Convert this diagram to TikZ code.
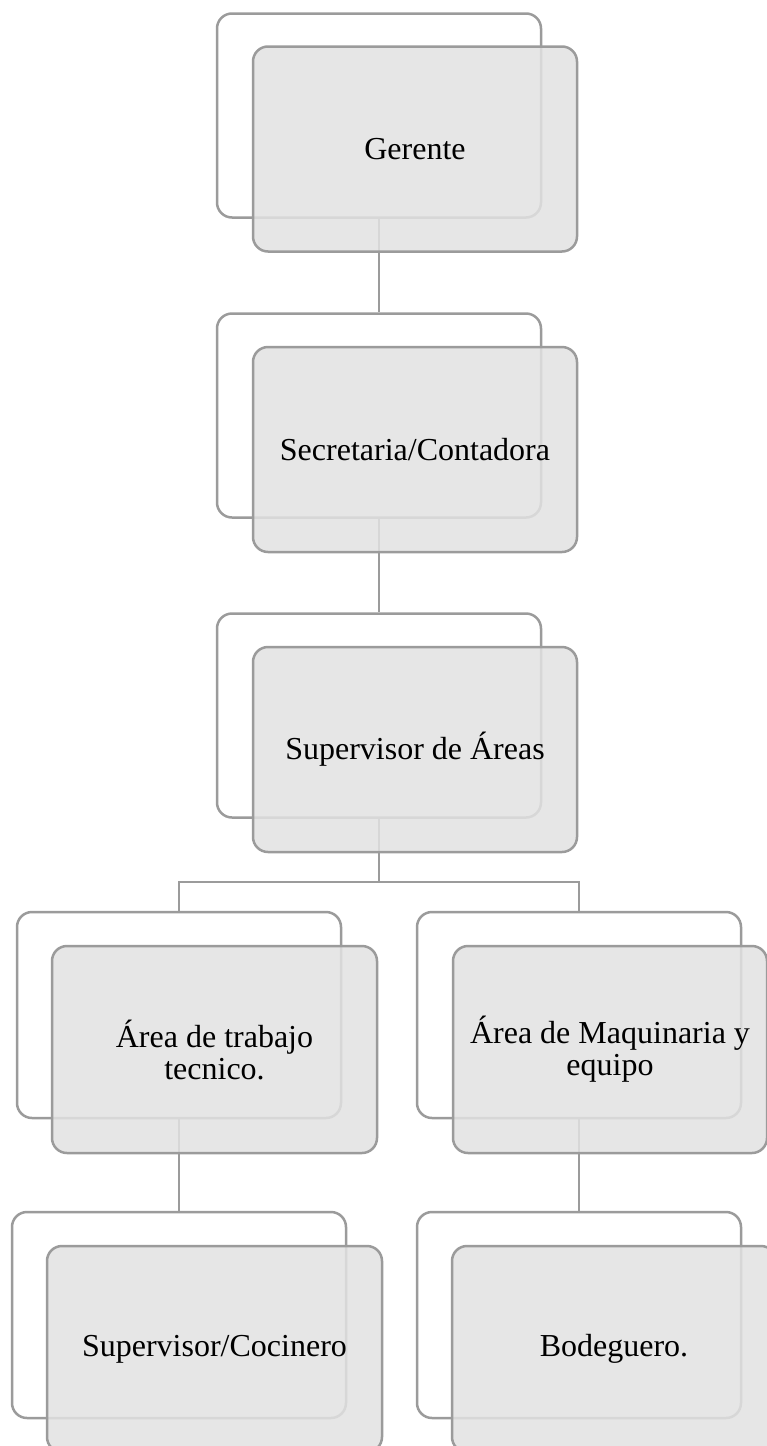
\documentclass[tikz,border=0pt]{standalone}
\usepackage{fontspec}
\setmainfont{Liberation Serif}
\definecolor{edgegray}{RGB}{155,155,155}
\definecolor{boxfill}{RGB}{226,226,226}
\tikzset{
  backbox/.style={draw=edgegray, line width=2.5pt, rounded corners=15pt, fill=white,
    minimum width=324pt, minimum height=204pt, inner sep=0pt},
  frontbox/.style={draw=edgegray, line width=2.5pt, rounded corners=15pt, fill=boxfill,
    fill opacity=0.85, text opacity=1, minimum width=324pt, minimum height=205pt,
    inner sep=0pt, align=center, font=\fontsize{32pt}{32pt}\selectfont},
  link/.style={draw=edgegray, line width=2.5pt}
}
\begin{document}
\begin{tikzpicture}[x=1pt,y=-1pt]
\useasboundingbox (0,0) rectangle (766,1446);
% back boxes
\node[backbox] (b1) at (379,115.5) {};
\node[backbox] (b2) at (379,415.5) {};
\node[backbox] (b3) at (379,715.5) {};
\node[backbox, minimum height=206pt] (b4l) at (179,1015) {};
\node[backbox, minimum height=206pt] (b4r) at (579,1015) {};
\node[backbox, minimum width=334pt, minimum height=206pt] (b5l) at (179,1315) {};
\node[backbox, minimum height=206pt] (b5r) at (579,1315) {};
% connectors
\draw[link] (b1.south) -- (b2.north);
\draw[link] (b2.south) -- (b3.north);
\coordinate (split) at (379,882);
\draw[link] (b3.south) -- (split);
\draw[link] (split) -| (b4l.north);
\draw[link] (split) -| (b4r.north);
\draw[link] (b4l.south) -- (b5l.north);
\draw[link] (b4r.south) -- (b5r.north);
% front boxes
\node[frontbox] (f1) at (415,149) {Gerente};
\node[frontbox] (f2) at (415,449.5) {Secretaria/Contadora};
\node[frontbox] (f3) at (415,749.5) {Supervisor de Áreas};
\node[frontbox, minimum width=325pt, minimum height=207pt] (f4l) at (214.5,1049.5) {Área de trabajo\\tecnico.};
\node[frontbox, minimum width=314pt, minimum height=207pt] (f4r) at (610,1049.5) {Área de Maquinaria y\\equipo};
\node[frontbox, minimum width=335pt, minimum height=206pt] (f5l) at (214.5,1349) {Supervisor/Cocinero};
\node[frontbox, minimum height=206pt] (f5r) at (614,1349) {Bodeguero.};
\end{tikzpicture}
\end{document}
